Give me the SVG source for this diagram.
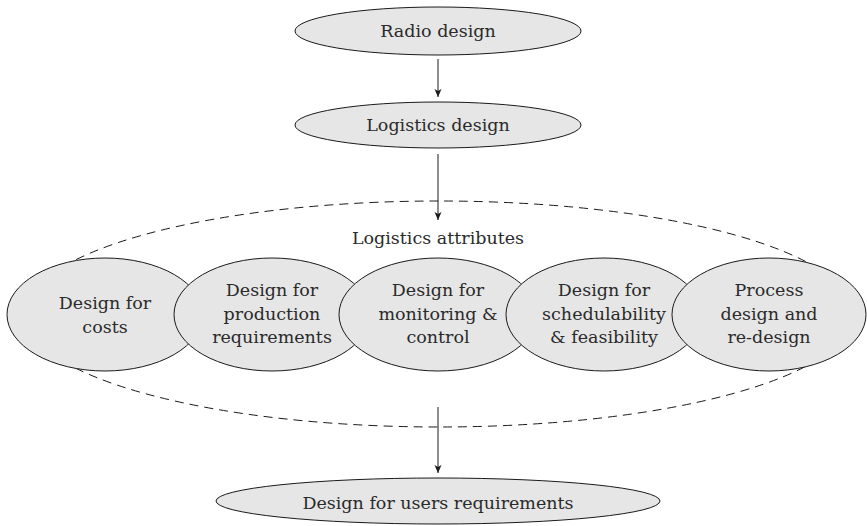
<svg xmlns="http://www.w3.org/2000/svg" width="867" height="526" viewBox="0 0 867 526">
<style>
.n{fill:#e6e6e6;stroke:#1a1a1a;stroke-width:1}
.t{font-family:"DejaVu Serif","Liberation Serif",serif;font-size:17.5px;fill:#2a2a2a;text-anchor:middle}
.c{stroke:#1a1a1a;stroke-width:1;fill:none}
.d{stroke:#1a1a1a;stroke-width:1;fill:none;stroke-dasharray:9 6}
</style>
<defs>
<marker id="ah" viewBox="0 0 8 10" refX="8" refY="5" markerWidth="8" markerHeight="10" markerUnits="userSpaceOnUse" orient="auto">
<path d="M0,1.5 L8,5 L0,8.5 L2,5 Z" fill="#1a1a1a"/>
</marker>
</defs>
<g id="connectors">
<path class="c" d="M438,59 V97" marker-end="url(#ah)"/>
<path class="c" d="M438,154 V220" marker-end="url(#ah)"/>
<path class="c" d="M438,407 V473" marker-end="url(#ah)"/>
</g>
<g id="group-attributes">
<ellipse class="d" cx="439" cy="314" rx="414" ry="113"/>
<text class="t" x="438" y="244">Logistics attributes</text>
</g>
<g id="radio">
<ellipse class="n" cx="438" cy="31" rx="143" ry="24"/>
<text class="t" x="438" y="37">Radio design</text>
</g>
<g id="logistics">
<ellipse class="n" cx="438" cy="125" rx="143" ry="23"/>
<text class="t" x="438" y="131">Logistics design</text>
</g>
<g id="costs">
<ellipse class="n" cx="105" cy="314.5" rx="98" ry="56.5"/>
<text class="t" x="105" y="309">Design for</text>
<text class="t" x="105" y="333">costs</text>
</g>
<g id="production">
<ellipse class="n" cx="272" cy="314.5" rx="98" ry="56.5"/>
<text class="t" x="272" y="296">Design for</text>
<text class="t" x="272" y="320">production</text>
<text class="t" x="272" y="343">requirements</text>
</g>
<g id="monitoring">
<ellipse class="n" cx="438" cy="314.5" rx="99" ry="56.5"/>
<text class="t" x="438" y="296">Design for</text>
<text class="t" x="438" y="320">monitoring &amp;</text>
<text class="t" x="438" y="343">control</text>
</g>
<g id="schedulability">
<ellipse class="n" cx="604" cy="314.5" rx="98" ry="56.5"/>
<text class="t" x="604" y="296">Design for</text>
<text class="t" x="604" y="320">schedulability</text>
<text class="t" x="604" y="343">&amp; feasibility</text>
</g>
<g id="process">
<ellipse class="n" cx="769" cy="314.5" rx="97" ry="56.5"/>
<text class="t" x="769" y="296">Process</text>
<text class="t" x="769" y="320">design and</text>
<text class="t" x="769" y="343">re-design</text>
</g>
<g id="users">
<ellipse class="n" cx="438" cy="501" rx="222" ry="23"/>
<text class="t" x="438" y="509">Design for users requirements</text>
</g>
</svg>
